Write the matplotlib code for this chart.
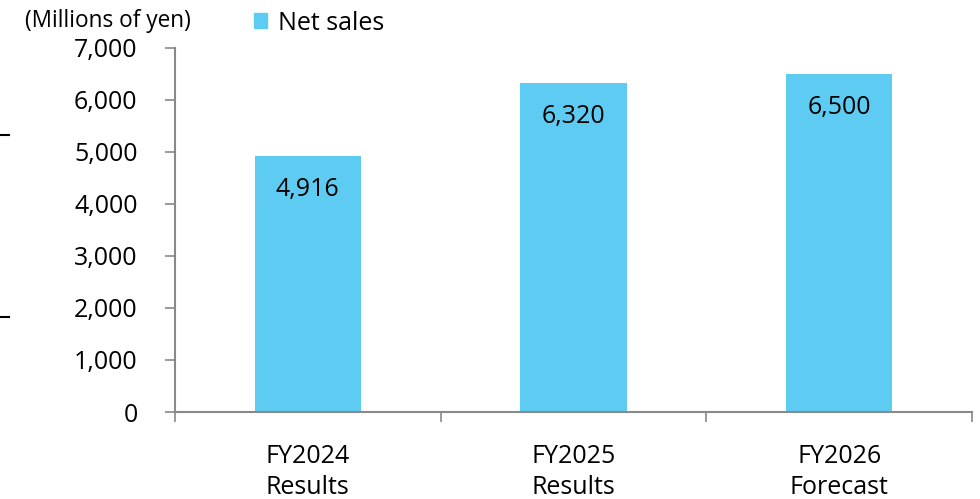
import matplotlib
matplotlib.use("Agg")
import matplotlib.pyplot as plt
from matplotlib.lines import Line2D
from matplotlib.patches import Patch

plt.rcParams["font.family"] = ["Open Sans", "DejaVu Sans"]

# data
categories = ["FY2024\nResults", "FY2025\nResults", "FY2026\nForecast"]
net_sales = [4916, 6320, 6500]
yticks = [0, 1000, 2000, 3000, 4000, 5000, 6000, 7000]

bar_color = "#5ECCF2"
axis_color = "#898989"
fs = 18

fig = plt.figure(figsize=(9.8, 4.99), dpi=100)
ax = fig.add_axes([175 / 980, 1 - 412 / 499, (972 - 175) / 980, (412 - 48) / 499])

x = list(range(len(categories)))
bars = ax.bar(x, net_sales, width=0.4, color=bar_color)

for xi, v in zip(x, net_sales):
    ax.annotate(f"{v:,}", (xi, v), xytext=(0, -24), textcoords="offset points",
                ha="center", va="center", fontsize=fs, color="black")

ax.set_xlim(-0.5, len(categories) - 0.5)
ax.set_ylim(0, 7000)
ax.set_yticks(yticks)
ax.set_yticklabels([f"{t:,}" for t in yticks])
ax.set_xticks(x)
ax.set_xticklabels(categories, linespacing=1.32)
ax.set_xticks([i - 0.5 for i in range(len(categories) + 1)], minor=True)

ax.tick_params(axis="y", direction="out", length=7, width=1.2, color=axis_color,
               pad=20, labelsize=fs)
ax.tick_params(axis="x", which="major", length=0, pad=23, labelsize=fs)
ax.tick_params(axis="x", which="minor", direction="out", length=7, width=1.2,
               color=axis_color)

for side in ["top", "right"]:
    ax.spines[side].set_visible(False)
for side in ["left", "bottom"]:
    ax.spines[side].set_color(axis_color)
    ax.spines[side].set_linewidth(1.5)

fig.text(25 / 980, 1 - 21 / 499, "(Millions of yen)", fontsize=16.3,
         ha="left", va="center")

ax.legend(handles=[Patch(color=bar_color, label="Net sales")], frameon=False,
          loc="center left", bbox_to_anchor=(241 / 980, 1 - 23 / 499),
          bbox_transform=fig.transFigure, fontsize=fs, handlelength=0.55,
          handleheight=0.55, handletextpad=0.45, borderpad=0)

# small dashes at left edge
for yy in [135, 317]:
    fig.add_artist(Line2D([0, 9 / 980], [1 - yy / 499, 1 - yy / 499],
                          color="black", lw=1.5, transform=fig.transFigure))

fig.savefig("out.png", dpi=100)
